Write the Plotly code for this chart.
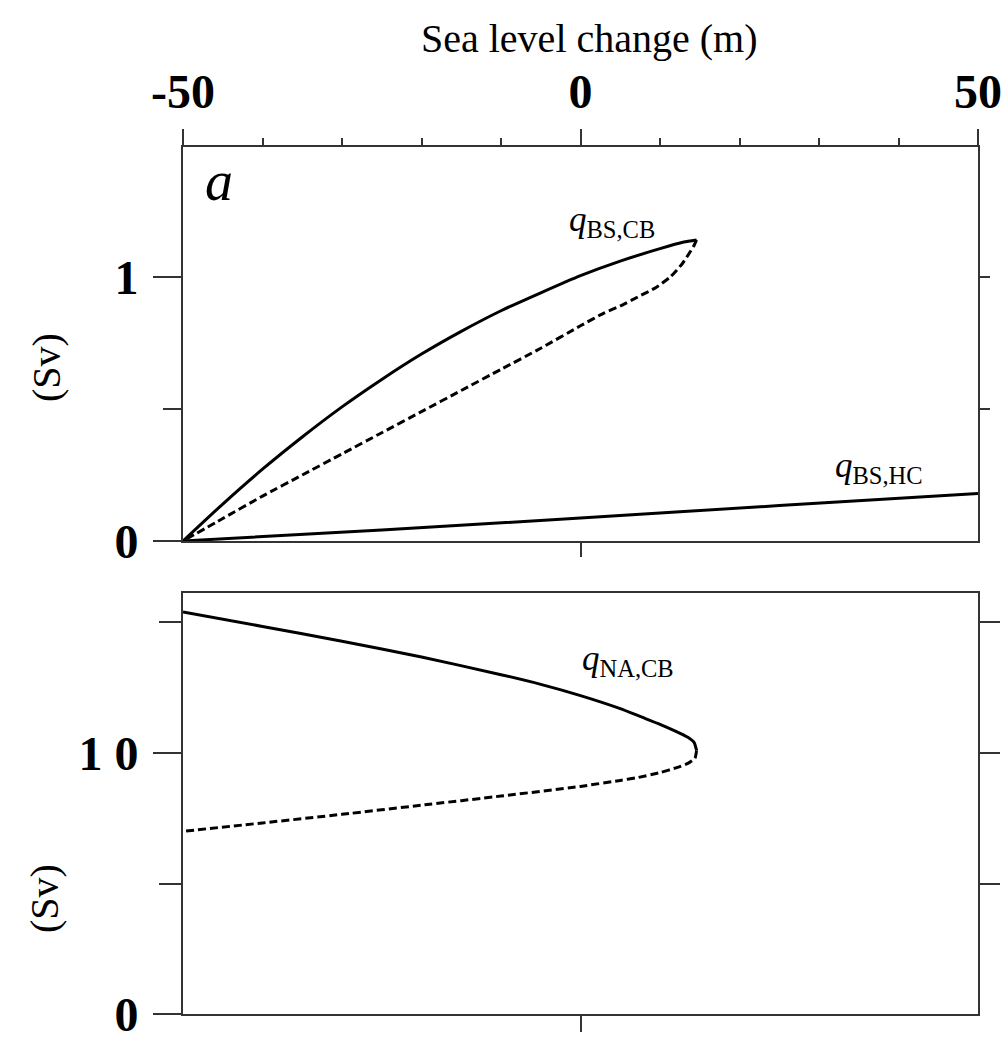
import plotly.graph_objects as go

# ---------------- data ----------------
# panel a (top): Bering Strait transports (Sv) vs sea level change (m)
bs_cb_upper_x = [-50, -45, -40, -35, -30, -25, -20, -15, -10, -5, 0, 5, 10, 13, 14.6]
bs_cb_upper_y = [0, 0.14, 0.272, 0.394, 0.508, 0.612, 0.708, 0.794, 0.872, 0.94, 1.005, 1.06, 1.107, 1.132, 1.14]
bs_cb_lower_x = [14.6, 14.3, 13.9, 12.8, 11.3, 9.5, 7.2, 5, 3, 0, -5, -10, -15, -20, -25, -30, -35, -40, -45, -50]
bs_cb_lower_y = [1.14, 1.12, 1.10, 1.05, 1.0, 0.96, 0.924, 0.89, 0.864, 0.815, 0.73, 0.65, 0.57, 0.49, 0.41, 0.33, 0.25, 0.17, 0.085, 0]
bs_hc_x = [-50, -25, 0, 25, 50]
bs_hc_y = [0, 0.042, 0.087, 0.134, 0.18]

# bottom panel: North Atlantic transport (Sv)
na_cb_upper_x = [-50, -40, -30, -20, -10, -5, 0, 5, 7.5, 10, 12, 13.5, 14.3, 14.6]
na_cb_upper_y = [15.4, 14.85, 14.28, 13.68, 13.0, 12.63, 12.2, 11.7, 11.4, 11.1, 10.83, 10.6, 10.4, 10.1]
na_cb_lower_x = [14.6, 14.4, 13.5, 12.2, 10, 7.2, 5, 0, -10, -20, -30, -40, -50]
na_cb_lower_y = [10.1, 9.8, 9.6, 9.45, 9.25, 9.06, 8.95, 8.72, 8.35, 8.0, 7.65, 7.32, 7.0]

x_ticks = [-50, 0, 50]
x_tick_labels = ["-50", "0", "50"]
x_minor = [-40, -30, -20, -10, 10, 20, 30, 40]
top_y_ticks = [0, 1]
top_y_labels = ["0", "1"]
top_y_minor = [0.5]
top_y_right_ticks = [0.5, 1]
bot_y_ticks = [0, 10]
bot_y_labels = ["0", "1 0"]
bot_y_minor = [5, 15]
bot_y_right_ticks = [5, 10, 15]

# ---------------- styling ----------------
W, H = 1008, 1038
SERIF = "Liberation Serif"
AX = "#333333"
x0_px, x1_px = 183, 978
top_px = (147, 541)
bot_px = (593, 1014)
xdom = [x0_px / W, x1_px / W]
ydom_top = [1 - top_px[1] / H, 1 - top_px[0] / H]
ydom_bot = [1 - bot_px[1] / H, 1 - bot_px[0] / H]
xr = [-50, 50]
yr_top = [0, 1.492]
yr_bot = [0, 16.13]
tickfont = dict(family=SERIF, size=48, color="black", weight="bold")

line_solid = dict(color="black", width=3, shape="spline", smoothing=0.5)
line_dash = dict(color="black", width=3, dash="8px,4px", shape="spline", smoothing=0.5)

fig = go.Figure()
fig.add_trace(go.Scatter(x=bs_cb_upper_x, y=bs_cb_upper_y, mode="lines", line=line_solid, xaxis="x", yaxis="y"))
fig.add_trace(go.Scatter(x=bs_cb_lower_x, y=bs_cb_lower_y, mode="lines", line=line_dash, xaxis="x", yaxis="y"))
fig.add_trace(go.Scatter(x=bs_hc_x, y=bs_hc_y, mode="lines", line=line_solid, xaxis="x", yaxis="y"))
fig.add_trace(go.Scatter(x=na_cb_upper_x, y=na_cb_upper_y, mode="lines", line=line_solid, xaxis="x3", yaxis="y2"))
fig.add_trace(go.Scatter(x=na_cb_lower_x, y=na_cb_lower_y, mode="lines", line=line_dash, xaxis="x3", yaxis="y2"))

# invisible helper traces so that the overlaying frame axes draw their ticks
for xa, ya, yy in [("x2", "y", yr_top), ("x", "y3", yr_top), ("x3", "y4", yr_bot)]:
    fig.add_trace(go.Scatter(x=xr, y=yy, mode="markers", marker=dict(opacity=0, size=1),
                             hoverinfo="skip", xaxis=xa, yaxis=ya))

common = dict(showgrid=False, zeroline=False, showline=True, linecolor=AX, linewidth=2,
              tickcolor=AX, tickwidth=2, fixedrange=True, automargin=False,
              ticklabeloverflow="allow")

fig.update_layout(
    template="none",
    width=W, height=H,
    margin=dict(l=0, r=0, t=0, b=0, pad=0),
    paper_bgcolor="white", plot_bgcolor="white",
    showlegend=False,
    # top panel, top edge: labelled sea-level axis
    xaxis=dict(domain=xdom, range=xr, anchor="y", side="top", tickmode="array",
               tickvals=x_ticks, ticktext=x_tick_labels, ticks="outside", ticklen=16,
               tickfont=tickfont, ticklabelstandoff=2,
               minor=dict(tickmode="array", tickvals=x_minor, ticks="outside", ticklen=7,
                          tickcolor=AX, tickwidth=1.5),
               **common),
    # top panel, bottom edge
    xaxis2=dict(range=xr, overlaying="x", anchor="y", side="bottom", tickmode="array",
                tickvals=[0], ticks="outside", ticklen=14, showticklabels=False, **common),
    # bottom panel, bottom edge (mirrored line on top edge)
    xaxis3=dict(domain=xdom, range=xr, anchor="y2", side="bottom", tickmode="array",
                tickvals=[0], ticks="outside", ticklen=16, showticklabels=False, mirror=True,
                **common),
    yaxis=dict(domain=ydom_top, range=yr_top, anchor="x", tickmode="array",
               tickvals=top_y_ticks, ticktext=top_y_labels, ticks="outside", ticklen=28,
               tickfont=tickfont, ticklabelstandoff=5,
               minor=dict(tickmode="array", tickvals=top_y_minor, ticks="outside", ticklen=18,
                          tickcolor=AX, tickwidth=1.5),
               **common),
    yaxis3=dict(range=yr_top, overlaying="y", anchor="x", side="right", tickmode="array",
                tickvals=top_y_right_ticks, ticks="outside", ticklen=10, showticklabels=False,
                **common),
    yaxis2=dict(domain=ydom_bot, range=yr_bot, anchor="x3", tickmode="array",
                tickvals=bot_y_ticks, ticktext=bot_y_labels, ticks="outside", ticklen=28,
                tickfont=tickfont, ticklabelstandoff=5,
                minor=dict(tickmode="array", tickvals=bot_y_minor, ticks="outside", ticklen=22,
                           tickcolor=AX, tickwidth=1.5),
                **common),
    yaxis4=dict(range=yr_bot, overlaying="y2", anchor="x3", side="right", tickmode="array",
                tickvals=bot_y_right_ticks, ticks="outside", ticklen=20, showticklabels=False,
                **common),
)

ann = []
ann.append(dict(text="Sea level change (m)", xref="paper", yref="paper", x=589 / W, y=1 - 38 / H,
                xanchor="center", yanchor="middle",
                showarrow=False, font=dict(family=SERIF, size=40, color="black")))
ann.append(dict(text="(Sv)", xref="paper", yref="paper", x=46 / W, y=1 - 368 / H, textangle=-90,
                xanchor="center", yanchor="middle",
                showarrow=False, font=dict(family=SERIF, size=40, color="black")))
ann.append(dict(text="(Sv)", xref="paper", yref="paper", x=44 / W, y=1 - 899 / H, textangle=-90,
                xanchor="center", yanchor="middle",
                showarrow=False, font=dict(family=SERIF, size=40, color="black")))
ann.append(dict(text="<i>a</i>", xref="x", yref="y", x=-45.5, y=1.365, showarrow=False,
                font=dict(family=SERIF, size=56, color="black")))
ann.append(dict(text="<i>q</i><sub>BS,CB</sub>", xref="x", yref="y", x=4.0, y=1.21, showarrow=False,
                font=dict(family=SERIF, size=35, color="black")))
ann.append(dict(text="<i>q</i><sub>BS,HC</sub>", xref="x", yref="y", x=37.5, y=0.28, showarrow=False,
                font=dict(family=SERIF, size=35, color="black")))
ann.append(dict(text="<i>q</i><sub>NA,CB</sub>", xref="x3", yref="y2", x=6.0, y=13.55, showarrow=False,
                font=dict(family=SERIF, size=35, color="black")))
fig.update_layout(annotations=ann)

fig.write_html("out.html")
